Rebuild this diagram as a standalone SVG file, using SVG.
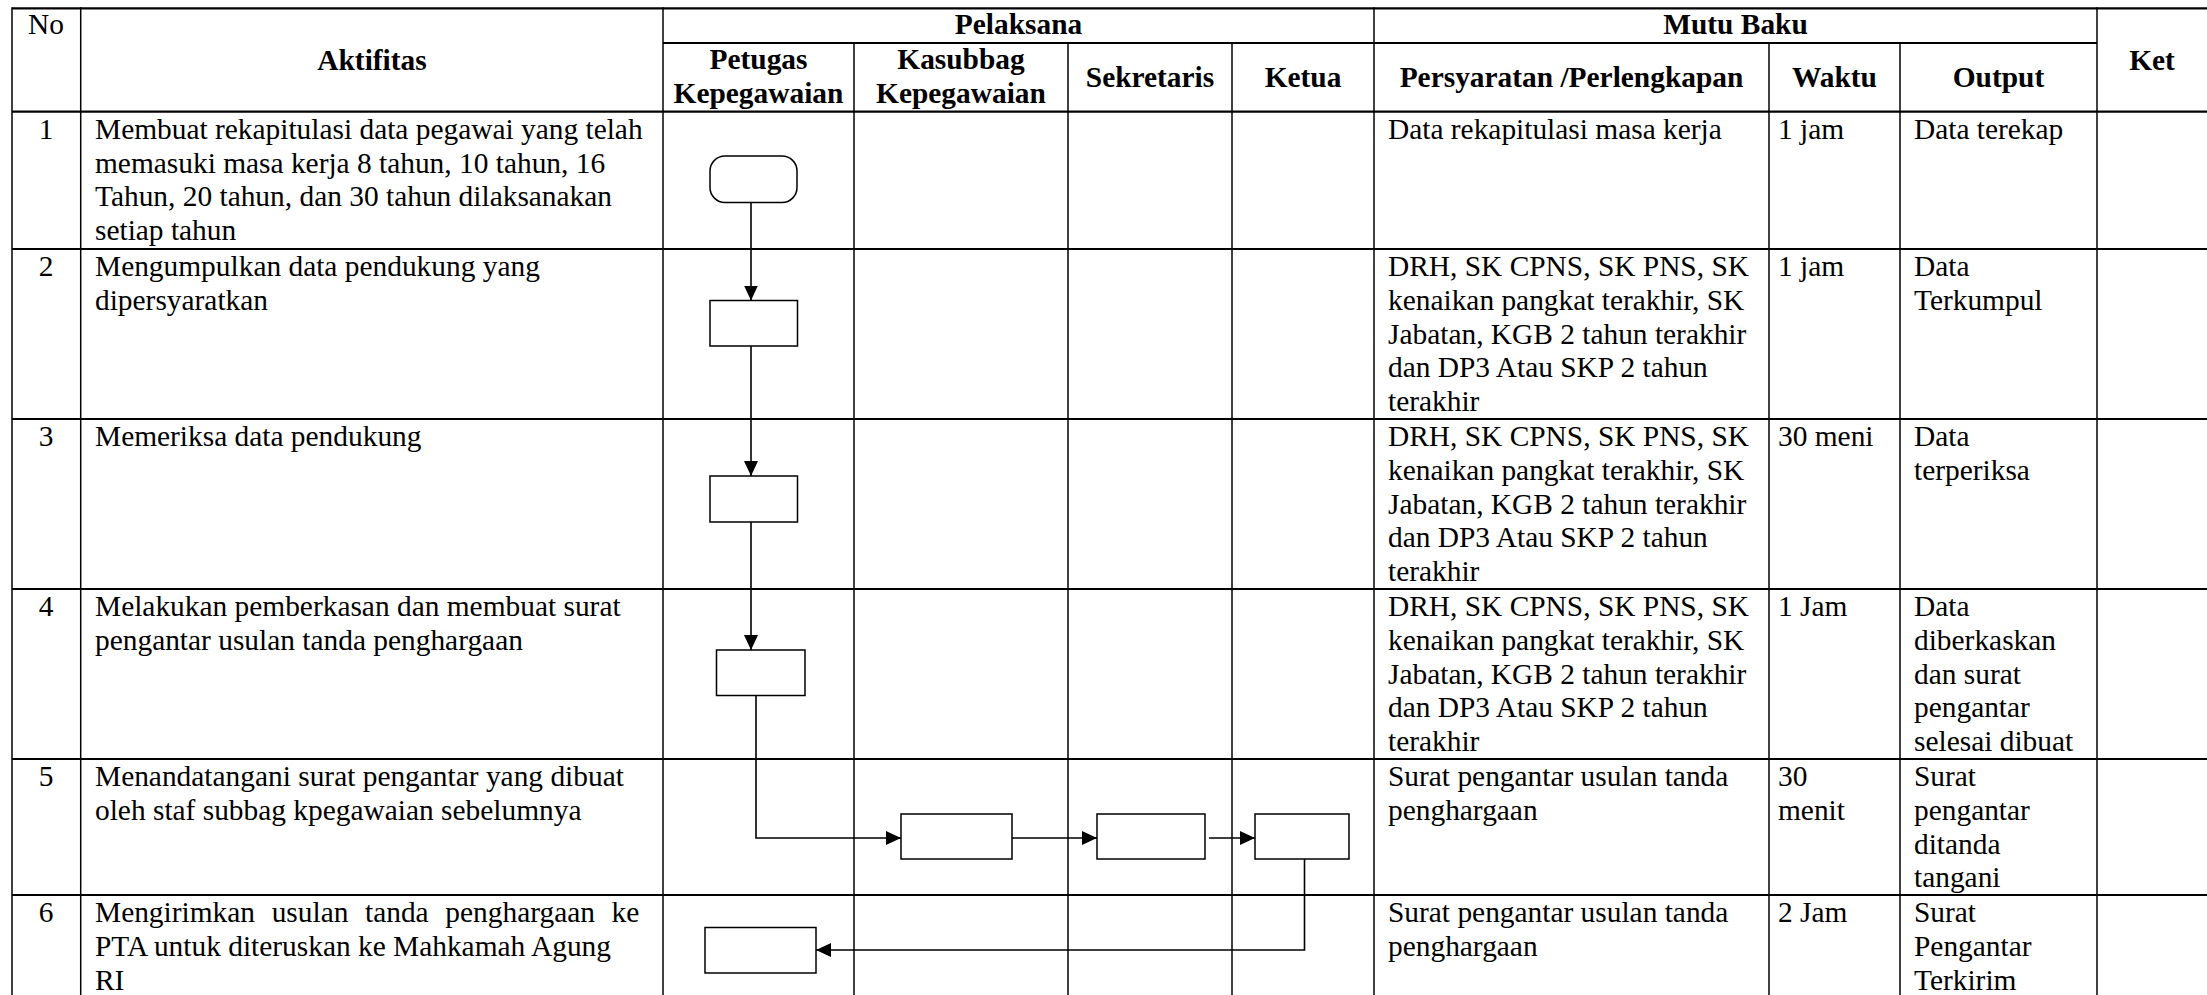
<svg xmlns="http://www.w3.org/2000/svg" width="2207" height="995" viewBox="0 0 2207 995">
<style>
text{font-family:"Liberation Serif","Times New Roman",serif;font-size:29.4px;fill:#000}
.b{font-weight:bold}
.m{text-anchor:middle}
.h{stroke:#000;stroke-width:2.2;fill:none}
.v{stroke:#000;stroke-width:1.5;fill:none}
.node{fill:#fff;stroke:#000;stroke-width:1.5}
.conn{fill:none;stroke:#000;stroke-width:1.6}
</style>
<defs>
<marker id="arr" viewBox="0 0 15 14" refX="15" refY="7" markerWidth="15" markerHeight="14" markerUnits="userSpaceOnUse" orient="auto">
<path d="M0,0 L15,7 L0,14 z" fill="#000"/>
</marker>
</defs>
<rect width="2207" height="995" fill="#fff"/>
<g id="grid">
<line class="h" x1="12" y1="8.3" x2="2207" y2="8.3"/>
<line class="h" x1="663" y1="43" x2="2097" y2="43"/>
<line class="h" x1="12" y1="111.7" x2="2207" y2="111.7"/>
<line class="h" x1="12" y1="249" x2="2207" y2="249"/>
<line class="h" x1="12" y1="419" x2="2207" y2="419"/>
<line class="h" x1="12" y1="589" x2="2207" y2="589"/>
<line class="h" x1="12" y1="759" x2="2207" y2="759"/>
<line class="h" x1="12" y1="895" x2="2207" y2="895"/>
<line class="v" x1="12" y1="7.2" x2="12" y2="995"/>
<line class="v" x1="80.7" y1="7.2" x2="80.7" y2="995"/>
<line class="v" x1="663" y1="7.2" x2="663" y2="995"/>
<line class="v" x1="854" y1="43" x2="854" y2="995"/>
<line class="v" x1="1068" y1="43" x2="1068" y2="995"/>
<line class="v" x1="1232" y1="43" x2="1232" y2="995"/>
<line class="v" x1="1374" y1="7.2" x2="1374" y2="995"/>
<line class="v" x1="1769" y1="43" x2="1769" y2="995"/>
<line class="v" x1="1900" y1="43" x2="1900" y2="995"/>
<line class="v" x1="2097" y1="7.2" x2="2097" y2="995"/>
</g>
<g id="header">
<text class="m" x="46" y="34">No</text>
<text class="b m" x="372" y="70">Aktifitas</text>
<text class="b m" x="1018.5" y="34">Pelaksana</text>
<text class="b m" x="1735.5" y="34">Mutu Baku</text>
<text class="b m" x="2152" y="70">Ket</text>
<text class="b m" x="758.5" y="69">Petugas</text>
<text class="b m" x="758.5" y="102.5">Kepegawaian</text>
<text class="b m" x="961" y="69">Kasubbag</text>
<text class="b m" x="961" y="102.5">Kepegawaian</text>
<text class="b m" x="1150" y="87">Sekretaris</text>
<text class="b m" x="1303" y="87">Ketua</text>
<text class="b m" x="1571.5" y="87">Persyaratan /Perlengkapan</text>
<text class="b m" x="1834.5" y="87">Waktu</text>
<text class="b m" x="1998.5" y="87">Output</text>
</g>
<g id="row1">
<text class="m" x="46" y="138.7">1</text>
<text x="95" y="138.7">Membuat rekapitulasi data pegawai yang telah</text>
<text x="95" y="172.5">memasuki masa kerja 8 tahun, 10 tahun, 16</text>
<text x="95" y="206.3">Tahun, 20 tahun, dan 30 tahun dilaksanakan</text>
<text x="95" y="240.1">setiap tahun</text>
<text x="1388" y="138.7">Data rekapitulasi masa kerja</text>
<text x="1778" y="138.7">1 jam</text>
<text x="1914" y="138.7">Data terekap</text>
</g>
<g id="row2">
<text class="m" x="46" y="276">2</text>
<text x="95" y="276">Mengumpulkan data pendukung yang</text>
<text x="95" y="309.8">dipersyaratkan</text>
<text x="1388" y="276">DRH, SK CPNS, SK PNS, SK</text>
<text x="1388" y="309.8">kenaikan pangkat terakhir, SK</text>
<text x="1388" y="343.6">Jabatan, KGB 2 tahun terakhir</text>
<text x="1388" y="377.4">dan DP3 Atau SKP 2 tahun</text>
<text x="1388" y="411.2">terakhir</text>
<text x="1778" y="276">1 jam</text>
<text x="1914" y="276">Data</text>
<text x="1914" y="309.8">Terkumpul</text>
</g>
<g id="row3">
<text class="m" x="46" y="446">3</text>
<text x="95" y="446">Memeriksa data pendukung</text>
<text x="1388" y="446">DRH, SK CPNS, SK PNS, SK</text>
<text x="1388" y="479.8">kenaikan pangkat terakhir, SK</text>
<text x="1388" y="513.6">Jabatan, KGB 2 tahun terakhir</text>
<text x="1388" y="547.4">dan DP3 Atau SKP 2 tahun</text>
<text x="1388" y="581.2">terakhir</text>
<text x="1778" y="446">30 meni</text>
<text x="1914" y="446">Data</text>
<text x="1914" y="479.8">terperiksa</text>
</g>
<g id="row4">
<text class="m" x="46" y="616">4</text>
<text x="95" y="616">Melakukan pemberkasan dan membuat surat</text>
<text x="95" y="649.8">pengantar usulan tanda penghargaan</text>
<text x="1388" y="616">DRH, SK CPNS, SK PNS, SK</text>
<text x="1388" y="649.8">kenaikan pangkat terakhir, SK</text>
<text x="1388" y="683.6">Jabatan, KGB 2 tahun terakhir</text>
<text x="1388" y="717.4">dan DP3 Atau SKP 2 tahun</text>
<text x="1388" y="751.2">terakhir</text>
<text x="1778" y="616">1 Jam</text>
<text x="1914" y="616">Data</text>
<text x="1914" y="649.8">diberkaskan</text>
<text x="1914" y="683.6">dan surat</text>
<text x="1914" y="717.4">pengantar</text>
<text x="1914" y="751.2">selesai dibuat</text>
</g>
<g id="row5">
<text class="m" x="46" y="786">5</text>
<text x="95" y="786">Menandatangani surat pengantar yang dibuat</text>
<text x="95" y="819.8">oleh staf subbag kpegawaian sebelumnya</text>
<text x="1388" y="786">Surat pengantar usulan tanda</text>
<text x="1388" y="819.8">penghargaan</text>
<text x="1778" y="786">30</text>
<text x="1778" y="819.8">menit</text>
<text x="1914" y="786">Surat</text>
<text x="1914" y="819.8">pengantar</text>
<text x="1914" y="853.6">ditanda</text>
<text x="1914" y="887.4">tangani</text>
</g>
<g id="row6">
<text class="m" x="46" y="922">6</text>
<text x="95" y="922" word-spacing="9.3">Mengirimkan usulan tanda penghargaan ke</text>
<text x="95" y="955.8">PTA untuk diteruskan ke Mahkamah Agung</text>
<text x="95" y="989.6">RI</text>
<text x="1388" y="922">Surat pengantar usulan tanda</text>
<text x="1388" y="955.8">penghargaan</text>
<text x="1778" y="922">2 Jam</text>
<text x="1914" y="922">Surat</text>
<text x="1914" y="955.8">Pengantar</text>
<text x="1914" y="989.6">Terkirim</text>
</g>
<g id="connectors">
<path class="conn" d="M751,202.5 V300.5" marker-end="url(#arr)"/>
<path class="conn" d="M751,346 V476" marker-end="url(#arr)"/>
<path class="conn" d="M751,522 V650" marker-end="url(#arr)"/>
<path class="conn" d="M756,695.5 V838 H901" marker-end="url(#arr)"/>
<path class="conn" d="M1012,838 H1097" marker-end="url(#arr)"/>
<path class="conn" d="M1209,838 H1255" marker-end="url(#arr)"/>
<path class="conn" d="M1304.5,859 V950 H816" marker-end="url(#arr)"/>
</g>
<g id="n1"><rect class="node" x="710" y="156" width="87" height="46.5" rx="15" ry="15"/></g>
<g id="n2"><rect class="node" x="710" y="300.5" width="87.5" height="45.5"/></g>
<g id="n3"><rect class="node" x="710" y="476" width="87.5" height="46"/></g>
<g id="n4"><rect class="node" x="716.5" y="650" width="88.5" height="45.5"/></g>
<g id="n5"><rect class="node" x="901" y="814" width="111" height="45"/></g>
<g id="n6"><rect class="node" x="1097" y="814" width="108" height="45"/></g>
<g id="n7"><rect class="node" x="1255" y="814" width="94" height="45"/></g>
<g id="n8"><rect class="node" x="705" y="927.5" width="111" height="45.5"/></g>
</svg>
